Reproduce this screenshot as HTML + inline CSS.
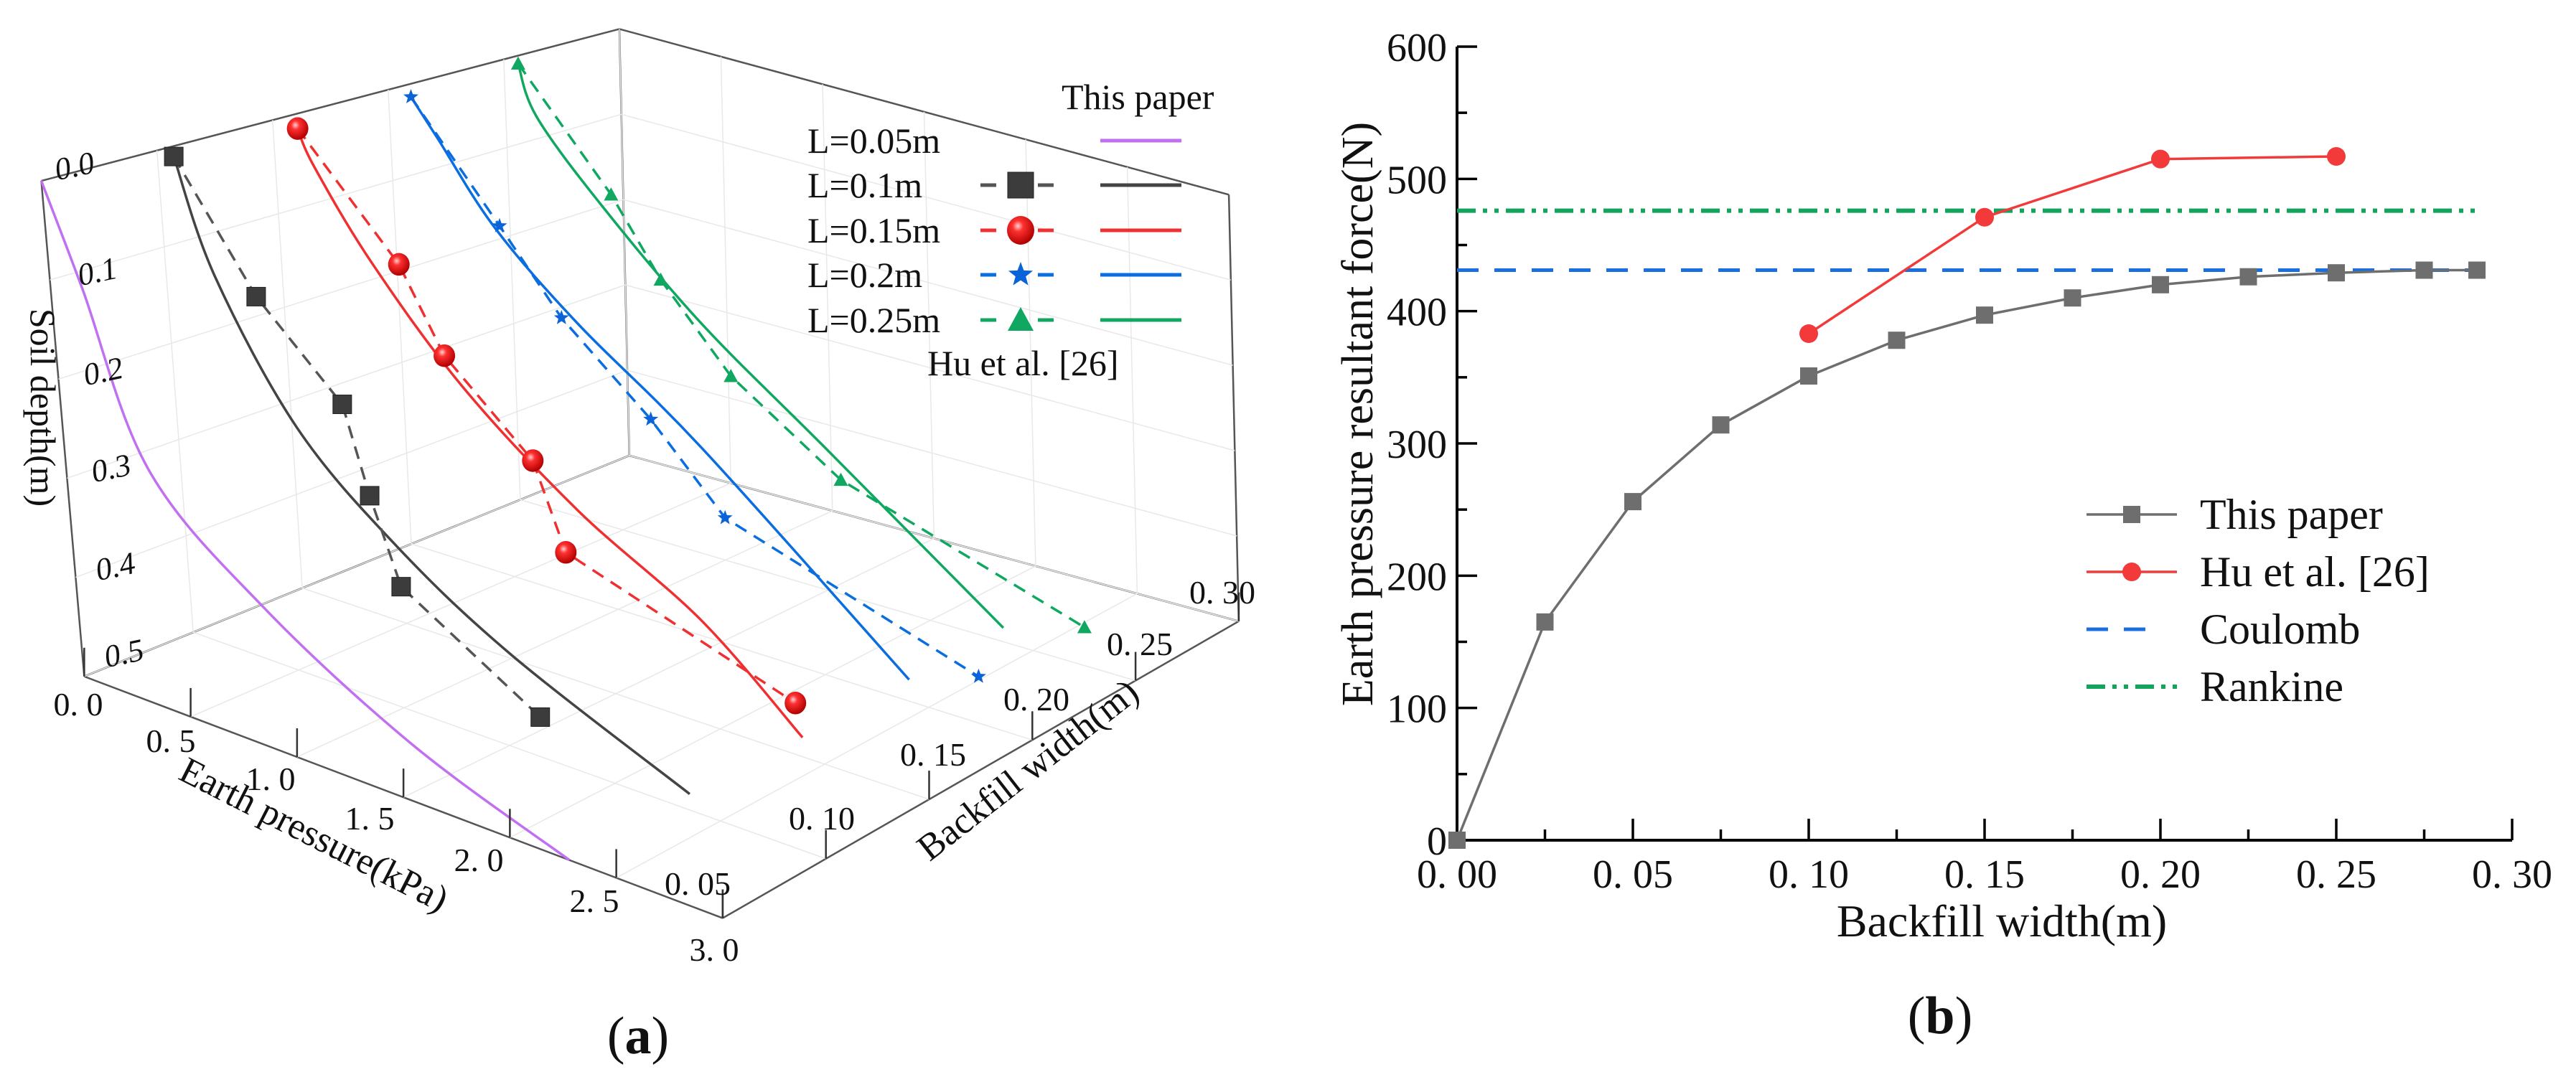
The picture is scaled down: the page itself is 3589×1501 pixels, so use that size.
<!DOCTYPE html>
<html><head><meta charset="utf-8">
<style>
html,body{margin:0;padding:0;background:#fff;}
svg{display:block;}
text{font-family:"Liberation Serif",serif;fill:#111;}
</style></head>
<body>
<svg id="fig" width="3589" height="1501" viewBox="0 0 3589 1501" xmlns="http://www.w3.org/2000/svg">
<defs>
<radialGradient id="sph" cx="0.4" cy="0.35" r="0.65">
<stop offset="0" stop-color="#ffd0d0"/><stop offset="0.3" stop-color="#ff3030"/><stop offset="1" stop-color="#b00000"/>
</radialGradient>
</defs>
<g id="panelA">
<g id="boxA" stroke="#555" stroke-width="2.5" fill="none"></g>
<g id="gridA" stroke="#e8e8e8" stroke-width="1.5" fill="none"></g>
<g id="seriesA"></g>
<g id="ticksA" stroke="#333" stroke-width="2.5"></g>
<g font-size="44" font-style="italic">
<text x="104" y="246" text-anchor="middle" transform="rotate(-12 104 233)">0.0</text>
<text x="136" y="393" text-anchor="middle" transform="rotate(-12 136 380)">0.1</text>
<text x="144" y="532" text-anchor="middle" transform="rotate(-12 144 519)">0.2</text>
<text x="155" y="667" text-anchor="middle" transform="rotate(-12 155 654)">0.3</text>
<text x="161" y="804" text-anchor="middle" transform="rotate(-12 161 791)">0.4</text>
<text x="173" y="925" text-anchor="middle" transform="rotate(-12 173 912)">0.5</text>
</g>
<text x="58" y="583" font-size="50" text-anchor="middle" transform="rotate(90 58 568)">Soil depth(m)</text>
<g font-size="46" text-anchor="middle">
<text x="109" y="997">0. 0</text><text x="238" y="1048">0. 5</text><text x="377" y="1101">1. 0</text>
<text x="515" y="1156">1. 5</text><text x="667" y="1214">2. 0</text><text x="828" y="1271">2. 5</text><text x="995" y="1339">3. 0</text>
</g>
<text x="437" y="1180" font-size="52" text-anchor="middle" transform="rotate(27 437 1164)">Earth pressure(kPa)</text>
<g font-size="46" text-anchor="middle">
<text x="972" y="1247">0. 05</text><text x="1145" y="1156">0. 10</text><text x="1300" y="1067">0. 15</text>
<text x="1444" y="990">0. 20</text><text x="1588" y="913">0. 25</text><text x="1703" y="841">0. 30</text>
</g>
<text x="1432" y="1090" font-size="52" text-anchor="middle" transform="rotate(-38 1432 1073)">Backfill width(m)</text>
<g id="legendA" font-size="50">
<text x="1479" y="152">This paper</text>
<text x="1292" y="523">Hu et al. [26]</text>
</g>
<text x="889" y="1468" font-size="74" text-anchor="middle">(<tspan font-weight="bold">a</tspan>)</text>
</g>

<g id="panelB">
<g id="gridB"></g>
<g id="seriesB"></g>
<text x="1892" y="597" font-size="62" text-anchor="middle" transform="rotate(-90 1892 577)">Earth pressure resultant force(N)</text>
<text x="2789" y="1305" font-size="64" text-anchor="middle">Backfill width(m)</text>
<g id="legendB" font-size="60"></g>
<text x="2703" y="1440" font-size="74" text-anchor="middle">(<tspan font-weight="bold">b</tspan>)</text>
</g>
</svg>
<script>
const NS="http://www.w3.org/2000/svg";
function mk(tag,attrs,parent){const e=document.createElementNS(NS,tag);for(const k in attrs)e.setAttribute(k,attrs[k]);parent.appendChild(e);return e;}

// ---------- Panel A data (pressure kPa vs depth m per backfill width) ----------
const widthsA=[0.05,0.10,0.15,0.20,0.25];
const colorsA=["#c070f0","#444444","#f03030","#0a6ee0","#10a860"];
const purpleP=[0,0.155,0.40,0.90,1.57,2.28];
const purpleD=[0,0.097,0.259,0.357,0.442,0.50];
const blackSolidP=[0.08,0.236,0.58,1.02,1.545,2.36];
const blackSolidD=[0,0.112,0.242,0.33,0.403,0.483];
const blackHuP=[0.08,0.43,0.81,0.91,1.03,1.66];
const blackHuD=[0,0.118,0.20,0.287,0.372,0.458];
const redSolidP=[0.12,0.188,0.44,0.846,1.373,1.945,2.40];
const redSolidD=[0,0.035,0.119,0.221,0.314,0.389,0.479];
const redHuP=[0.12,0.573,0.767,1.167,1.30,2.376];
const redHuD=[0,0.111,0.194,0.276,0.364,0.444];
const blueSolidP=[0.11,0.231,0.49,0.874,1.45,2.41];
const blueSolidD=[0,0.037,0.117,0.195,0.29,0.476];
const blueHuP=[0.11,0.513,0.794,1.207,1.547,2.752];
const blueHuD=[0,0.113,0.194,0.276,0.36,0.448];
const greenSolidP=[0.07,0.152,0.461,0.928,1.516,2.358];
const greenSolidD=[0,0.055,0.136,0.237,0.338,0.484];
const greenHuP=[0.07,0.504,0.733,1.061,1.584,2.758];
const greenHuD=[0,0.119,0.20,0.287,0.369,0.456];
const pTicksA=[0,0.5,1,1.5,2,2.5,3];
const wTicksA=[0.05,0.10,0.15,0.20,0.25,0.30];

const SX=1.1506, SY=0.962;
function proj(p,w,d){
  const t=(w-0.05)/0.25;
  const tx=50+700*t, ty=262-220*t;
  const px=257.7-11.7*t, py=116.7-36.7*t;
  const dx=104-80*t, dy=1436-200*t;
  return [(tx+p*px+d*dx)*SX,(ty+p*py+d*dy)*SY];
}
const box=document.getElementById('boxA');
function seg(g,a,b,name){const l=mk('line',{x1:a[0],y1:a[1],x2:b[0],y2:b[1]},g);return l;}
const c000=proj(0,0.05,0), c00d=proj(0,0.05,0.5), c30d=proj(3,0.05,0.5), c3wd=proj(3,0.30,0.5);
const c0w0=proj(0,0.30,0), c0wd=proj(0,0.30,0.5), c3w0=proj(3,0.30,0);
const grid=document.getElementById('gridA');
for(let i=1;i<6;i++){const w=0.05+i*0.05;seg(grid,proj(0,w,0),proj(0,w,0.5),'grid-line');seg(grid,proj(0,w,0.5),proj(3,w,0.5),'grid-line');}
for(let i=1;i<6;i++){const d=i*0.1;seg(grid,proj(0,0.05,d),proj(0,0.30,d),'grid-line');seg(grid,proj(0,0.30,d),proj(3,0.30,d),'grid-line');}
for(let i=1;i<6;i++){const p=i*0.5;seg(grid,proj(p,0.05,0.5),proj(p,0.30,0.5),'grid-line');seg(grid,proj(p,0.30,0),proj(p,0.30,0.5),'grid-line');}
seg(box,c000,c00d,'soil-depth-axis');
seg(box,c00d,c30d,'earth-pressure-axis');
seg(box,c30d,c3wd,'backfill-width-axis');
seg(box,c000,c0w0,'box-top-left-edge');
seg(box,c0w0,c0wd,'box-back-edge');
seg(box,c00d,c0wd,'box-floor-left-edge');
seg(box,c0wd,c3wd,'box-floor-back-edge');
seg(box,c0w0,c3w0,'box-top-back-edge');
seg(box,c3w0,c3wd,'box-right-edge');
const ticks=document.getElementById('ticksA');
pTicksA.forEach(p=>{const a=proj(p,0.05,0.5);seg(ticks,a,[a[0],a[1]-40],'pressure-tick');});
wTicksA.forEach(w=>{const a=proj(3,w,0.5);seg(ticks,a,[a[0],a[1]-40],'width-tick');});

const sA=document.getElementById('seriesA');
function smoothPath(pts){
  let d='M'+pts[0][0].toFixed(1)+','+pts[0][1].toFixed(1);
  for(let i=0;i<pts.length-1;i++){
    const p0=pts[Math.max(0,i-1)],p1=pts[i],p2=pts[i+1],p3=pts[Math.min(pts.length-1,i+2)];
    const c1=[p1[0]+(p2[0]-p0[0])/6,p1[1]+(p2[1]-p0[1])/6];
    const c2=[p2[0]-(p3[0]-p1[0])/6,p2[1]-(p3[1]-p1[1])/6];
    d+='C'+c1.map(v=>v.toFixed(1)).join(',')+' '+c2.map(v=>v.toFixed(1)).join(',')+' '+p2.map(v=>v.toFixed(1)).join(',');
  }
  return d;
}
function lineA(P,D,w,color,dash,name){
  const pts=P.map((p,i)=>proj(p,w,D[i]));
  let pl;
  if(dash){pl=mk('polyline',{points:pts.map(q=>q.join(',')).join(' '),fill:'none',stroke:color,'stroke-width':3.5,'stroke-dasharray':'18 12'},sA);}
  else {pl=mk('path',{d:smoothPath(pts),fill:'none',stroke:color,'stroke-width':3.5},sA);}
  
  
}
function starPath(cx,cy,R){let s='';for(let i=0;i<10;i++){const r=i%2?R*0.42:R;const a=-Math.PI/2+i*Math.PI/5;s+=(i?'L':'M')+(cx+r*Math.cos(a)).toFixed(1)+','+(cy+r*Math.sin(a)).toFixed(1);}return s+'Z';}
function marker(g,kind,x,y,size){
  let e;
  if(kind==='square'){e=mk('rect',{x:x-size/2,y:y-size/2,width:size,height:size,fill:'#3c3c3c',stroke:'#222','stroke-width':1},g);}
  else if(kind==='sphere'){e=mk('ellipse',{cx:x,cy:y,rx:size/2,ry:size/2*1.05,fill:'url(#sph)'},g);}
  else if(kind==='star'){e=mk('path',{d:starPath(x,y,size/2),fill:'#0a64d8'},g);}
  else {e=mk('path',{d:`M${x},${y-size/2}L${x+size/2},${y+size/2.4}L${x-size/2},${y+size/2.4}Z`,fill:'#10a860'},g);}
  
  
  return e;
}
function marksA(P,D,w,kind,size){P.forEach((p,i)=>{const q=proj(p,w,D[i]);marker(sA,kind,q[0],q[1],size);});}
lineA(purpleP,purpleD,0.05,colorsA[0],false,'curve-this-paper-l005');
lineA(blackSolidP,blackSolidD,0.10,colorsA[1],false,'curve-this-paper-l01');
lineA(blackHuP,blackHuD,0.10,'#555',true,'curve-hu-l01');
lineA(redSolidP,redSolidD,0.15,colorsA[2],false,'curve-this-paper-l015');
lineA(redHuP,redHuD,0.15,colorsA[2],true,'curve-hu-l015');
lineA(blueSolidP,blueSolidD,0.20,colorsA[3],false,'curve-this-paper-l02');
lineA(blueHuP,blueHuD,0.20,colorsA[3],true,'curve-hu-l02');
lineA(greenSolidP,greenSolidD,0.25,colorsA[4],false,'curve-this-paper-l025');
lineA(greenHuP,greenHuD,0.25,colorsA[4],true,'curve-hu-l025');
marksA(blackHuP,blackHuD,0.10,'square',26);
marksA(redHuP,redHuD,0.15,'sphere',30);
marksA(blueHuP,blueHuD,0.20,'star',22);
marksA(greenHuP,greenHuD,0.25,'tri',20);

const legA=document.getElementById('legendA');
const legLabelsA=["L=0.05m","L=0.1m","L=0.15m","L=0.2m","L=0.25m"];
const legKinds=[null,'square','sphere','star','tri'];
const legRowsY=[213,275,338,400,463];
legLabelsA.forEach((lab,i)=>{
  const y=legRowsY[i], cy=y-17;
  const t=mk('text',{x:1125,y:y},legA);t.textContent=lab;
  
  
  const sl=mk('line',{x1:1533,y1:cy,x2:1646,y2:cy,stroke:colorsA[i],'stroke-width':5},legA);
  
  
  if(legKinds[i]){
    const c=i===1?'#555':colorsA[i];
    const d1=mk('line',{x1:1366,y1:cy,x2:1388,y2:cy,stroke:c,'stroke-width':5},legA);
    
    
    const d2=mk('line',{x1:1446,y1:cy,x2:1468,y2:cy,stroke:c,'stroke-width':5},legA);
    
    
    marker(legA,legKinds[i],1422,cy,legKinds[i]==='sphere'?38:36);
  }
});

// ---------- Panel B ----------
const thisPaperX=[0,0.025,0.05,0.075,0.10,0.125,0.15,0.175,0.20,0.225,0.25,0.275,0.29];
const thisPaperY=[0,165,256,314,351,378,397,410,420,426,429,431,431];
const huX=[0.10,0.15,0.20,0.25];
const huY=[383,471,515,517];
const coulombY=[431];
const rankineY=[476];
const refLineX=[0,0.29];
const xTicksB=[0,0.05,0.10,0.15,0.20,0.25,0.30];
const xTickLabelsB=["0. 00","0. 05","0. 10","0. 15","0. 20","0. 25","0. 30"];
const yTicksB=[0,100,200,300,400,500,600];

const X0=2030,X1=3500,Y0=1171,Y1=65;
const xs=v=>X0+(v/0.30)*(X1-X0);
const ys=v=>Y0-(v/600)*(Y0-Y1);
const ax=document.getElementById('gridB');
let l;
l=mk('line',{x1:X0,y1:Y0,x2:X1,y2:Y0,stroke:'#000','stroke-width':4},ax);
l=mk('line',{x1:X0,y1:Y0+2,x2:X0,y2:Y1,stroke:'#000','stroke-width':4},ax);
for(let v=0;v<=0.3001;v+=0.025){const major=Math.abs(v/0.05-Math.round(v/0.05))<1e-6;
  l=mk('line',{x1:xs(v),y1:Y0,x2:xs(v),y2:Y0-(major?30:15),stroke:'#000','stroke-width':3.5},ax);
  }
for(let v=0;v<=600;v+=50){const major=v%100===0;
  l=mk('line',{x1:X0,y1:ys(v),x2:X0+(major?28:14),y2:ys(v),stroke:'#000','stroke-width':3.5},ax);
  }
xTicksB.forEach((v,i)=>{const t=mk('text',{x:xs(v),y:Y0+66,'font-size':56,'text-anchor':'middle'},ax);t.textContent=xTickLabelsB[i];
  });
yTicksB.forEach(v=>{const t=mk('text',{x:X0-14,y:ys(v)+20,'font-size':56,'text-anchor':'end'},ax);t.textContent=String(v);
  });

const sB=document.getElementById('seriesB');
let r=mk('line',{x1:xs(refLineX[0]),y1:ys(rankineY[0]),x2:xs(refLineX[1]),y2:ys(rankineY[0]),stroke:'#12a35c','stroke-width':6,'stroke-dasharray':'26 10 6 10 6 10'},sB);

r=mk('line',{x1:xs(refLineX[0]),y1:ys(coulombY[0]),x2:xs(refLineX[1]),y2:ys(coulombY[0]),stroke:'#1a6fe0','stroke-width':5,'stroke-dasharray':'30 22'},sB);

r=mk('polyline',{points:thisPaperX.map((v,i)=>xs(v)+','+ys(thisPaperY[i])).join(' '),fill:'none',stroke:'#6e6e6e','stroke-width':3.5},sB);

thisPaperX.forEach((v,i)=>{const m=mk('rect',{x:xs(v)-12,y:ys(thisPaperY[i])-12,width:24,height:24,fill:'#6e6e6e'},sB);
  });
r=mk('polyline',{points:huX.map((v,i)=>xs(v)+','+ys(huY[i])).join(' '),fill:'none',stroke:'#f23a3a','stroke-width':3.5},sB);

huX.forEach((v,i)=>{const m=mk('circle',{cx:xs(v),cy:ys(huY[i]),r:13,fill:'#f23a3a'},sB);
  });

const legB=document.getElementById('legendB');
const legBLabels=["This paper","Hu et al. [26]","Coulomb","Rankine"];
const legBY=[717,797,877,957];
legBLabels.forEach((lab,i)=>{
  const y=legBY[i];
  let e;
  if(i===0){e=mk('line',{x1:2907,y1:y,x2:3033,y2:y,stroke:'#6e6e6e','stroke-width':3.5},legB);mk('rect',{x:2958,y:y-12,width:24,height:24,fill:'#6e6e6e'},legB);}
  else if(i===1){e=mk('line',{x1:2907,y1:y,x2:3033,y2:y,stroke:'#f23a3a','stroke-width':3.5},legB);mk('circle',{cx:2970,cy:y,r:13,fill:'#f23a3a'},legB);}
  else if(i===2){e=mk('line',{x1:2907,y1:y,x2:3000,y2:y,stroke:'#1a6fe0','stroke-width':5,'stroke-dasharray':'30 22'},legB);}
  else {e=mk('line',{x1:2907,y1:y,x2:3033,y2:y,stroke:'#12a35c','stroke-width':6,'stroke-dasharray':'26 10 6 10 6 10'},legB);}
  
  
  const t=mk('text',{x:3065,y:y+20},legB);t.textContent=lab;
  
  
});
</script>
</body></html>
